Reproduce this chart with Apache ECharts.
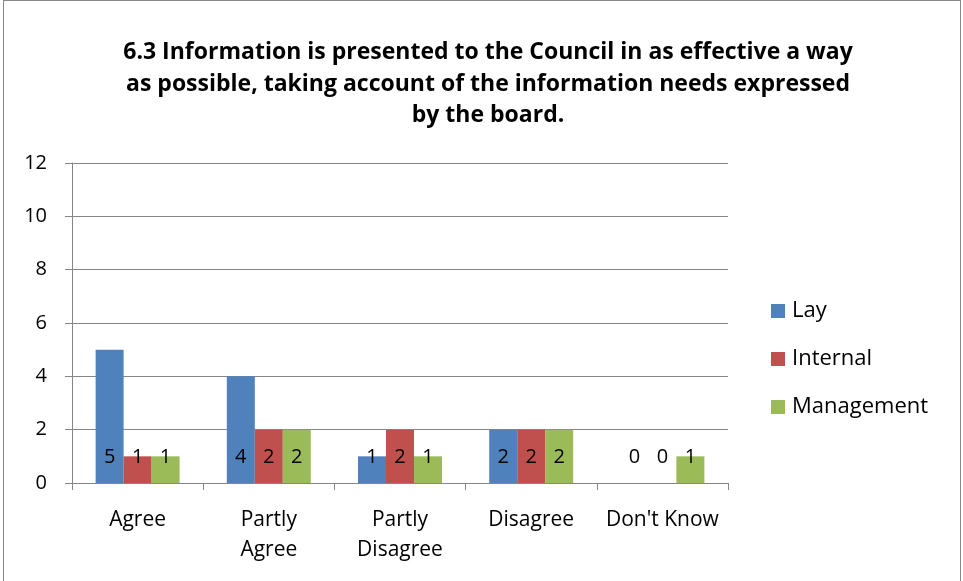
<!DOCTYPE html>
<html>
<head>
<meta charset="utf-8">
<script src="https://cdn.jsdelivr.net/npm/echarts@6/dist/echarts.min.js"></script>
<style>
  html, body { margin: 0; padding: 0; background: #fff; }
  #frame { position: absolute; left: 3px; top: 0; width: 958px; height: 590px; border: 1px solid #898989; box-sizing: border-box; }
  #chart { position: absolute; left: 0; top: 0; width: 963px; height: 581px; }
</style>
</head>
<body>
<div id="frame"></div>
<div id="chart"></div>
<script>
var categories = ['Agree', 'Partly\nAgree', 'Partly\nDisagree', 'Disagree', "Don't Know"];
var lay = [5, 4, 1, 2, 0];
var internal = [1, 2, 2, 2, 0];
var management = [1, 2, 1, 2, 1];
var yTicks = [0, 2, 4, 6, 8, 10, 12];

var font = '"Open Sans", sans-serif';

function barSeries(name, data, color) {
  return {
    name: name,
    type: 'bar',
    data: data,
    barGap: '0%',
    barCategoryGap: '36%',
    itemStyle: { color: color },
    label: {
      show: true,
      position: 'insideBottom',
      distance: 16,
      color: '#000',
      fontFamily: font,
      fontSize: 20
    }
  };
}

var option = {
  animation: false,
  textStyle: { fontFamily: font },
  title: {
    text: '6.3 Information is presented to the Council in as effective a way\nas possible, taking account of the information needs expressed\nby the board.',
    left: 483,
    textAlign: 'center',
    top: 32,
    textStyle: { fontFamily: font, fontWeight: 'bold', fontSize: 23, lineHeight: 31.5, color: '#000' }
  },
  legend: {
    orient: 'vertical',
    left: 766,
    top: 295,
    itemWidth: 14,
    itemHeight: 14,
    itemGap: 26,
    icon: 'rect',
    textStyle: { fontFamily: font, fontSize: 22, color: '#000', padding: [0, 0, 0, 2] },
    data: ['Lay', 'Internal', 'Management']
  },
  grid: { left: 72, right: 235, top: 163, bottom: 98, containLabel: false },
  xAxis: {
    type: 'category',
    data: categories,
    axisLine: { lineStyle: { color: '#868686' } },
    axisTick: { show: true, length: 7, lineStyle: { color: '#868686' } },
    axisLabel: { color: '#000', fontFamily: font, fontSize: 21, lineHeight: 30, margin: 22, interval: 0 }
  },
  yAxis: {
    type: 'value',
    min: yTicks[0],
    max: yTicks[yTicks.length - 1],
    interval: 2,
    axisLine: { show: true, lineStyle: { color: '#868686' } },
    axisTick: { show: true, length: 7, lineStyle: { color: '#868686' } },
    axisLabel: { color: '#000', fontFamily: font, fontSize: 20, margin: 25 },
    splitLine: { lineStyle: { color: '#868686' } }
  },
  series: [
    barSeries('Lay', lay, '#4F81BD'),
    barSeries('Internal', internal, '#C0504D'),
    barSeries('Management', management, '#9BBB59')
  ]
};

var chart = echarts.init(document.getElementById('chart'));
chart.setOption(option);
</script>
</body>
</html>
